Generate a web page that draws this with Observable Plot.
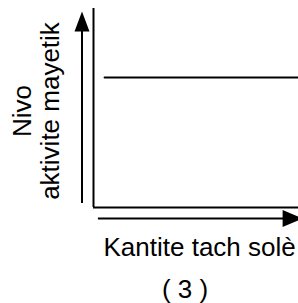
<!DOCTYPE html>
<html>
<head>
<meta charset="utf-8">
<script src="https://cdn.jsdelivr.net/npm/d3@7"></script>
<script src="https://cdn.jsdelivr.net/npm/@observablehq/plot@0.6"></script>
<style>
  html, body { margin: 0; padding: 0; background: #fff; }
</style>
</head>
<body>
<div id="chart"></div>
<script>
// ---- data ----
const levelX = [0.054, 1];          // relative "Kantite tach solè"
const levelY = [0.653, 0.653];      // constant "Nivo aktivite mayetik"
const yLabelLines = ["Nivo", "aktivite mayetik"];
const xLabel = ["Kantite tach solè"];
const caption = ["( 3 )"];

// ---- decorations (axis arrows outside the frame) ----
const yArrow = {x: -0.056, from: 0.02, to: 0.985};
const xArrow = {y: -0.055, from: 0.024, to: 1.02};

const headUp = {draw(ctx) { ctx.moveTo(0, 0); ctx.lineTo(-7.5, 20); ctx.lineTo(7.5, 20); ctx.closePath(); }};
const headRight = {draw(ctx) { ctx.moveTo(0, 0); ctx.lineTo(-20, -8.5); ctx.lineTo(-20, 8.5); ctx.closePath(); }};

const font = "Liberation Sans, Arial, Helvetica, sans-serif";

const chart = Plot.plot({
  width: 298,
  height: 303,
  marginLeft: 93,
  marginRight: 0,
  marginTop: 8,
  marginBottom: 96,
  style: {fontFamily: font, background: "white", color: "black"},
  x: {domain: [0, 1], axis: null},
  y: {domain: [0, 1], axis: null},
  marks: [
    // frame (left and bottom)
    Plot.ruleX([0], {y1: 0, y2: 1, stroke: "black", strokeWidth: 2}),
    Plot.ruleY([0], {x1: 0, x2: 1, stroke: "black", strokeWidth: 2}),
    // data line
    Plot.line(levelX.map((x, i) => ({x, y: levelY[i]})), {x: "x", y: "y", stroke: "black", strokeWidth: 2}),
    // y-axis arrow
    Plot.ruleX([yArrow.x], {y1: yArrow.from, y2: yArrow.to - 0.08, stroke: "black", strokeWidth: 2}),
    Plot.dot([{x: yArrow.x, y: yArrow.to}], {x: "x", y: "y", symbol: headUp, fill: "black", stroke: "none"}),
    // x-axis arrow
    Plot.ruleY([xArrow.y], {x1: xArrow.from, x2: xArrow.to - 0.08, stroke: "black", strokeWidth: 2}),
    Plot.dot([{x: xArrow.to, y: xArrow.y}], {x: "x", y: "y", symbol: headRight, fill: "black", stroke: "none"}),
    // y label (rotated, two lines)
    Plot.text([yLabelLines[0]], {frameAnchor: "left", dx: -63, dy: 3, rotate: -90, textAnchor: "middle", lineAnchor: "bottom", fontSize: 26, fill: "black"}),
    Plot.text([yLabelLines[1]], {frameAnchor: "left", dx: -35, dy: 3, rotate: -90, textAnchor: "middle", lineAnchor: "bottom", fontSize: 26, fill: "black"}),
    // x label
    Plot.text(xLabel, {frameAnchor: "bottom-left", dx: 10, dy: 48, textAnchor: "start", lineAnchor: "bottom", fontSize: 26, fill: "black"}),
    // caption
    Plot.text(caption, {frameAnchor: "bottom", dx: -11, dy: 90, textAnchor: "middle", lineAnchor: "bottom", fontSize: 26, fill: "black"})
  ]
});
document.getElementById("chart").appendChild(chart);
</script>
</body>
</html>
